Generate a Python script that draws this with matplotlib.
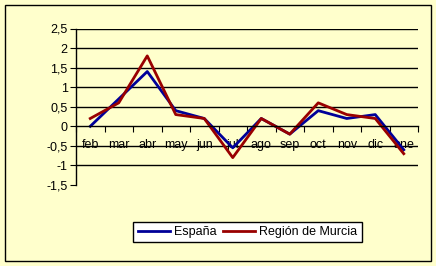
import matplotlib
matplotlib.use('Agg')
import matplotlib.pyplot as plt
from matplotlib.patches import Rectangle
from matplotlib.ticker import FixedLocator, FuncFormatter

months = ['feb', 'mar', 'abr', 'may', 'jun', 'jul', 'ago', 'sep', 'oct', 'nov', 'dic', 'ane']
espana = [0.0, 0.7, 1.4, 0.4, 0.2, -0.55, 0.2, -0.2, 0.4, 0.2, 0.3, -0.6]
murcia = [0.2, 0.6, 1.8, 0.3, 0.2, -0.8, 0.2, -0.2, 0.6, 0.3, 0.2, -0.7]
yticks = [-1.5, -1, -0.5, 0, 0.5, 1, 1.5, 2, 2.5]

bg = '#FFFFCC'
plt.rcParams['font.family'] = ['Liberation Sans', 'DejaVu Sans']

fig = plt.figure(figsize=(4.36, 2.66), dpi=100, facecolor=bg)
ax = fig.add_axes([76 / 436, 1 - 185 / 266, 342 / 436, (185 - 28.5) / 266])
ax.set_facecolor(bg)

x = list(range(len(months)))
ax.plot(x, espana, color='#000099', lw=2, label='España')
ax.plot(x, murcia, color='#990000', lw=2, label='Región de Murcia')

ax.set_xlim(-0.5, len(months) - 0.5)
ax.set_ylim(-1.5, 2.5)
for v in yticks:
    if v not in (-1.5, 0):
        ax.axhline(v, color='black', lw=1, zorder=0)

for s in ['top', 'right']:
    ax.spines[s].set_visible(False)
ax.spines['bottom'].set_position(('data', 0))
ax.spines['left'].set_linewidth(1)
ax.spines['bottom'].set_linewidth(1)

ax.set_yticks(yticks)
ax.yaxis.set_major_formatter(FuncFormatter(lambda v, p: ('%g' % v).replace('.', ',')))
ax.tick_params(axis='y', length=4, labelsize=9, pad=2)

ax.xaxis.set_major_locator(FixedLocator([i - 0.5 for i in range(len(months) + 1)]))
ax.xaxis.set_major_formatter(FuncFormatter(lambda v, p: ''))
ax.set_xticks(x, minor=True)
ax.set_xticklabels(months, minor=True)
ax.tick_params(axis='x', which='major', length=4, direction='out')
ax.tick_params(axis='x', which='minor', length=0, labelsize=9, pad=9)

leg = fig.legend(loc='center', bbox_to_anchor=(247.5 / 436, 1 - 232 / 266), ncol=2,
                 fontsize=9, frameon=True, fancybox=False, edgecolor='black',
                 handlelength=2.6, handletextpad=0.3, columnspacing=0.5,
                 borderpad=0.35)
leg.get_frame().set_linewidth(1)
leg.get_frame().set_facecolor('white')
leg.get_frame().set_alpha(1)

fig.patches.append(Rectangle((5 / 436, 5 / 266), 426 / 436, 256 / 266, transform=fig.transFigure,
                             fill=False, edgecolor='black', lw=1))

fig.savefig('out.png', dpi=100, facecolor=bg)
